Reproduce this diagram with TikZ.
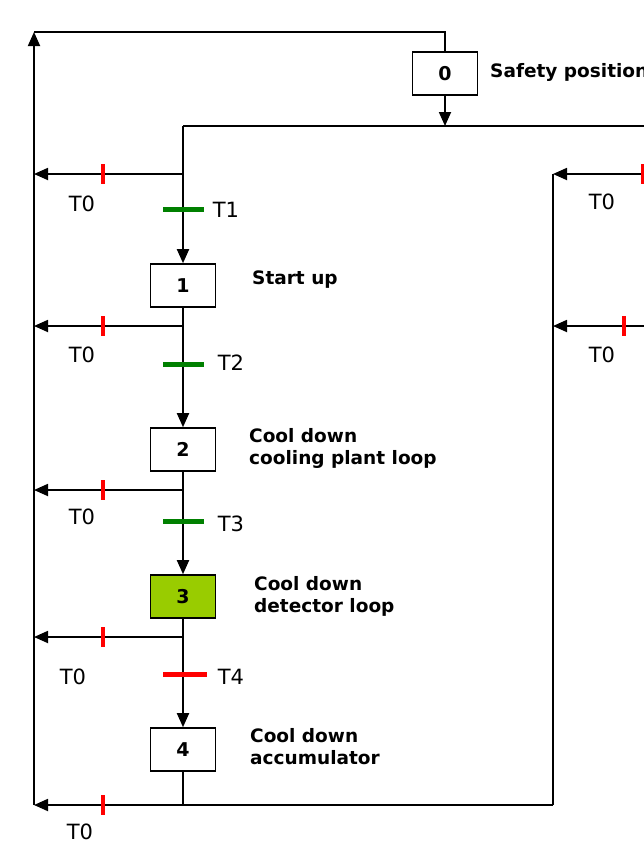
\documentclass[tikz,border=0pt]{standalone}
\usepackage{fontspec}
\setmainfont{DejaVu Sans}
\usetikzlibrary{arrows.meta}
\definecolor{tgreen}{HTML}{008000}
\definecolor{tred}{HTML}{FF0000}
\definecolor{actgreen}{HTML}{99CC00}
\tikzset{
  line/.style={line width=1.8pt, black},
  arr/.style={line, -{Triangle[length=14pt,width=12pt]}},
  stepbox/.style={draw, line width=1.6pt, minimum width=65pt, minimum height=43pt,
    inner sep=0pt, font=\fontsize{19}{22}\selectfont\bfseries},
  desc/.style={anchor=west, align=left, inner sep=0pt, font=\fontsize{18.5}{22}\selectfont\bfseries},
  tlab/.style={inner sep=0pt, font=\fontsize{21}{24}\selectfont},
  redtick/.style={line width=4pt, tred},
  greentick/.style={line width=5pt, tgreen},
}
\begin{document}
\begin{tikzpicture}[x=1pt,y=-1pt]
\useasboundingbox (0,0) rectangle (644,852);
% steps
\node[stepbox] (s0) at (445,73.5) {0};
\node[stepbox] (s1) at (183,285.5) {1};
\node[stepbox] (s2) at (183,449.5) {2};
\node[stepbox, fill=actgreen] (s3) at (183,596.5) {3};
\node[stepbox] (s4) at (183,749.5) {4};
% descriptions
\node[desc] (d0) at (490,72) {Safety position};
\node[desc] (d1) at (252,280) {Start up};
\node[desc] (d2) at (249,448) {Cool down\\cooling plant loop};
\node[desc] (d3) at (254,596) {Cool down\\detector loop};
\node[desc] (d4) at (250,747) {Cool down\\accumulator};
% coordinates
\coordinate (tl) at (34,32);
\coordinate (tr) at (445,32);
\coordinate (j0) at (445,126);
\coordinate (jl) at (183,126);
\coordinate (jr) at (660,126);
\coordinate (b1) at (183,174);
\coordinate (b2) at (183,326);
\coordinate (b3) at (183,490);
\coordinate (b4) at (183,637);
\coordinate (b5) at (183,805);
\coordinate (l1) at (34,174);
\coordinate (l2) at (34,326);
\coordinate (l3) at (34,490);
\coordinate (l4) at (34,637);
\coordinate (l5) at (34,805);
\coordinate (rb) at (553,805);
\coordinate (rt) at (553,174);
\coordinate (rm) at (553,326);
\coordinate (rx1) at (660,174);
\coordinate (rx2) at (660,326);
% top return
\draw[line] (s0.north) -- (tr) -- (tl);
\draw[arr] (l5) -- (tl);
\draw[arr] (s0.south) -- (j0);
\draw[line] (jl) -- (jr);
% main chain
\draw[arr] (jl) -- (s1.north);
\draw[arr] (s1.south) -- (s2.north);
\draw[arr] (s2.south) -- (s3.north);
\draw[arr] (s3.south) -- (s4.north);
\draw[line] (s4.south) -- (b5);
% left branches
\draw[arr] (b1) -- (l1);
\draw[arr] (b2) -- (l2);
\draw[arr] (b3) -- (l3);
\draw[arr] (b4) -- (l4);
\draw[arr] (rb) -- (l5);
% right side
\draw[line] (rt) -- (rb);
\draw[arr] (rx1) -- (rt);
\draw[arr] (rx2) -- (rm);
% red ticks
\foreach \y in {174,326,490,637,805} \draw[redtick] (103,\y-10) -- (103,\y+10);
\draw[redtick] (643,164) -- (643,184);
\draw[redtick] (624,316) -- (624,336);
% transitions
\draw[greentick] (163,209) -- (204,209);
\draw[greentick] (163,364) -- (204,364);
\draw[greentick] (163,521) -- (204,521);
\draw[redtick, line width=5pt] (163,674) -- (207,674);
% labels
\node[tlab] (t1) at (226,210) {T1};
\node[tlab] (t2) at (231,363) {T2};
\node[tlab] (t3) at (231,524) {T3};
\node[tlab] (t4) at (231,677) {T4};
\node[tlab] (z1) at (82,204) {T0};
\node[tlab] (z2) at (82,355) {T0};
\node[tlab] (z3) at (82,517) {T0};
\node[tlab] (z4) at (73,677) {T0};
\node[tlab] (z5) at (80,832) {T0};
\node[tlab] (z6) at (602,202) {T0};
\node[tlab] (z7) at (602,355) {T0};
\end{tikzpicture}
\end{document}
